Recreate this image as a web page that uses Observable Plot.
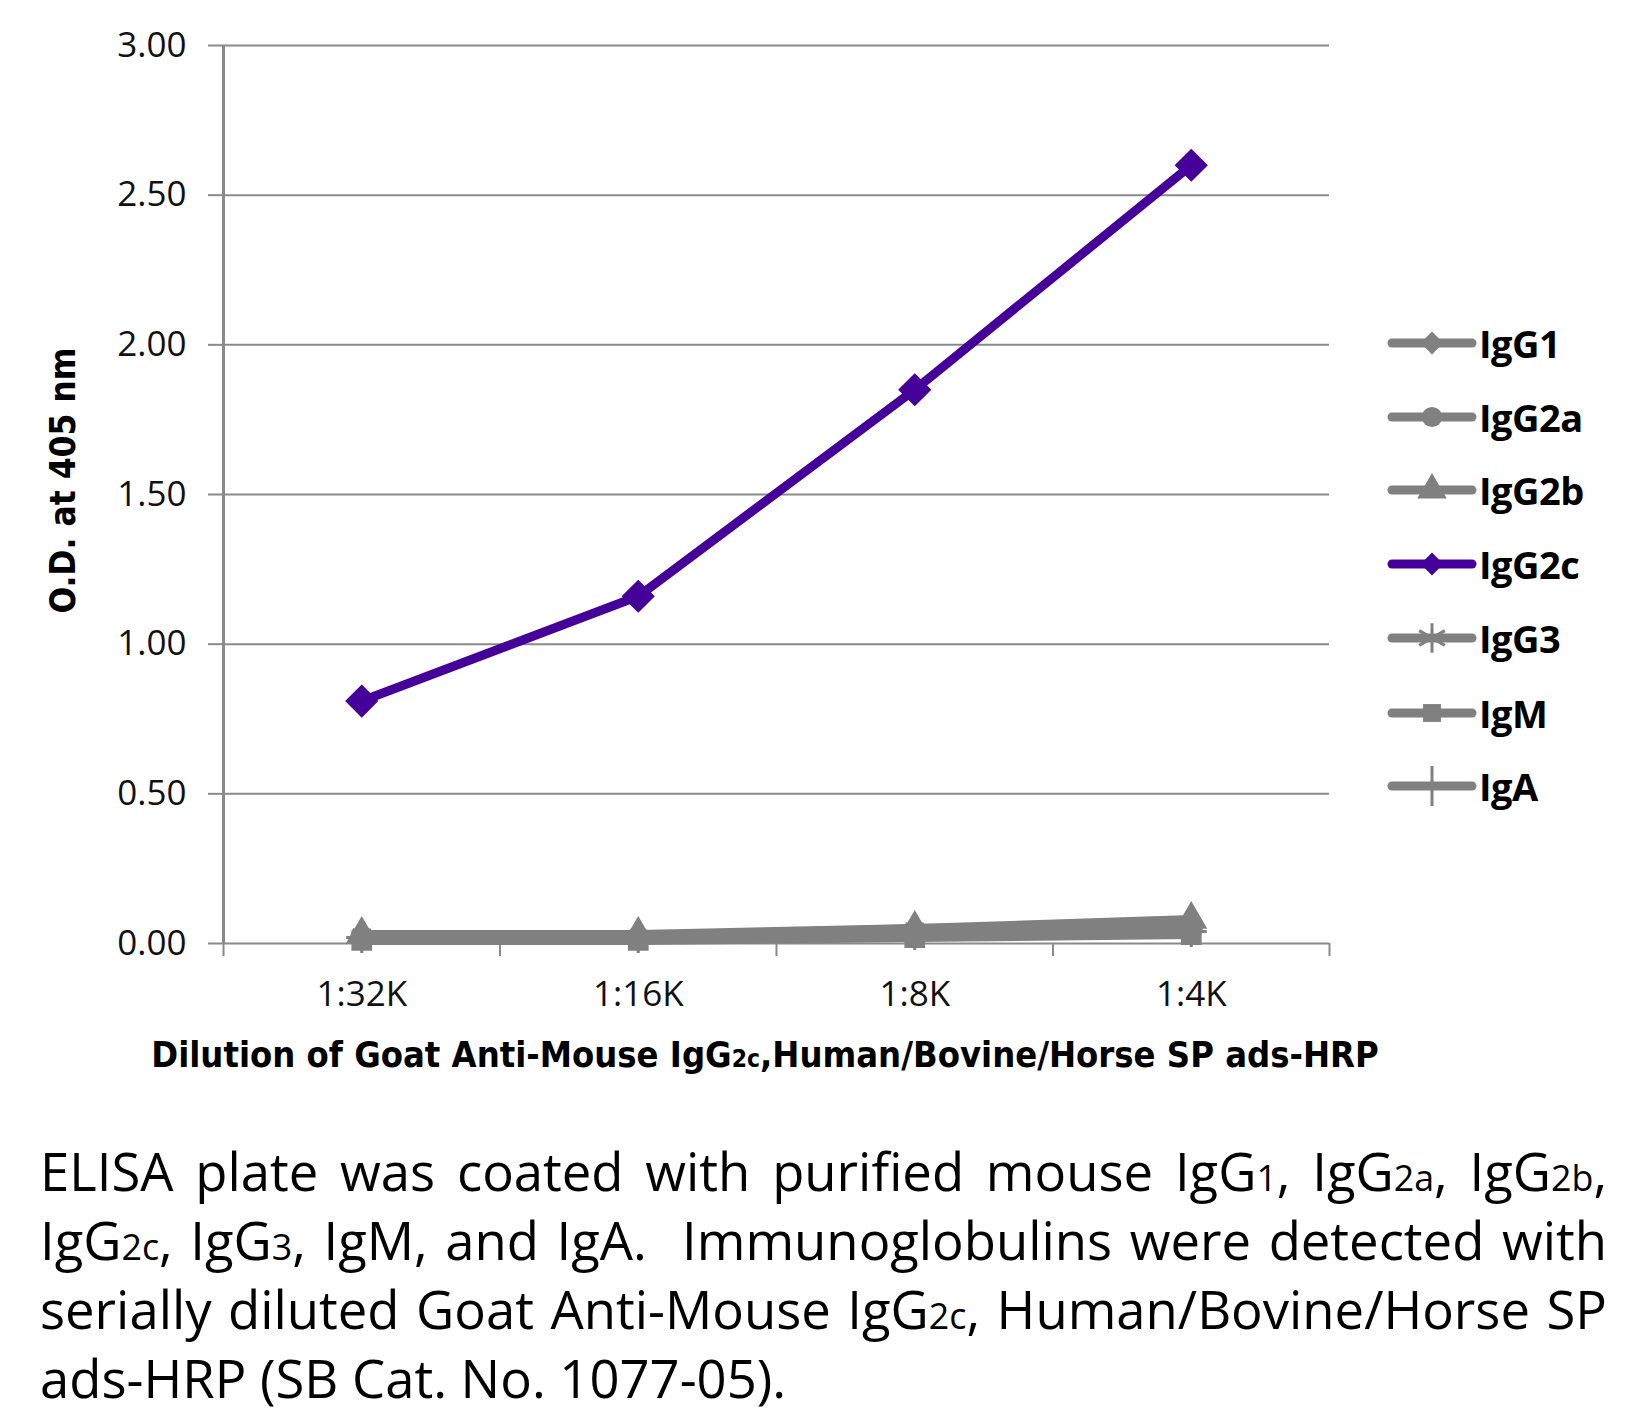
<!DOCTYPE html>
<html>
<head>
<meta charset="utf-8">
<script src="https://cdn.jsdelivr.net/npm/d3@7"></script>
<script src="https://cdn.jsdelivr.net/npm/@observablehq/plot@0.6"></script>
<style>
  body { margin: 0; background: #fff; }
  #wrap { position: relative; width: 1629px; height: 1415px; overflow: hidden; background:#fff; }
  #chart { position: absolute; left: 0; top: 0; }
  .cond { font-family: "Liberation Sans Narrow", "DejaVu Sans Condensed", "Roboto", sans-serif; font-weight: bold; }
  #xtitle { position: absolute; left: 0; width: 1530px; text-align: center; top: 1034px; font-size: 36px; color: #000; white-space: nowrap; }
  #xtitle .sub { font-size: 0.68em; }
  #legend { position: absolute; left: 1386px; top: 0; }
  .lrow { position: absolute; left: 0; height: 44px; display: flex; align-items: center; white-space: nowrap; }
  .lrow span { font-family: "Open Sans", "Noto Sans", sans-serif; font-weight: 700; font-size: 38px; color: #000; margin-left: 1px; letter-spacing: -0.5px; }
  #caption { position: absolute; left: 40px; width: 1567px; top: 1136px; font-family: "Open Sans", "Noto Sans", sans-serif; font-size: 48px; line-height: 69px; color: #000; }
  #caption .ln { text-align: justify; text-align-last: justify; white-space: nowrap; height: 69px; }
  #caption .last { text-align: left; text-align-last: left; height: 66px; }
  .s { font-size: 0.68em; line-height: 0; }
  .measure { position: absolute; left: 0; top: 0; visibility: hidden; white-space: nowrap; font-family: "Open Sans", "Noto Sans", sans-serif; font-size: 48px; }
</style>
</head>
<body>
<div id="wrap">
  <div id="chart"></div>
  <div id="xtitle" class="cond">Dilution of Goat Anti-Mouse IgG<span class="sub">2c</span>,Human/Bovine/Horse SP ads-HRP</div>
  <div id="legend"></div>
  <div id="caption">
    <div class="ln">ELISA plate was coated with purified mouse IgG<span class="s">1</span>, IgG<span class="s">2a</span>, IgG<span class="s">2b</span>,</div>
    <div class="ln">IgG<span class="s">2c</span>, IgG<span class="s">3</span>, IgM, and IgA.&nbsp; Immunoglobulins were detected with</div>
    <div class="ln">serially diluted Goat Anti-Mouse IgG<span class="s">2c</span>, Human/Bovine/Horse SP</div>
    <div class="ln last">ads-HRP (SB Cat. No. 1077-05).</div>
  </div>
</div>
<script>
// ---- data ----
const dilutions = ["1:32K", "1:16K", "1:8K", "1:4K"];
const seriesNames = ["IgG1", "IgG2a", "IgG2b", "IgG2c", "IgG3", "IgM", "IgA"];
const IgG1  = [0.02, 0.02, 0.04, 0.06];
const IgG2a = [0.02, 0.02, 0.03, 0.05];
const IgG2b = [0.03, 0.03, 0.05, 0.08];
const IgG2c = [0.81, 1.16, 1.85, 2.60];
const IgG3  = [0.03, 0.02, 0.05, 0.06];
const IgM   = [0.01, 0.01, 0.02, 0.03];
const IgA   = [0.02, 0.02, 0.03, 0.04];
const yTicks = [0, 0.5, 1, 1.5, 2, 2.5, 3];
const symbols = ["diamond2", "circle", "triangle", "diamond2", "asterisk", "square", "plus"];
const colors = ["#808080", "#808080", "#808080", "#46009a", "#808080", "#808080", "#808080"];

const values = [IgG1, IgG2a, IgG2b, IgG2c, IgG3, IgM, IgA];
const rows = seriesNames.flatMap((s, si) => values[si].map((v, i) => ({series: s, pos: i + 0.5, od: v})));
const gray = rows.filter(d => d.series !== "IgG2c");
const purple = rows.filter(d => d.series === "IgG2c");

const shadow = "filter: drop-shadow(3px 7px 3px rgba(0,0,0,0.45));";
const condFont = '"Liberation Sans Narrow", "DejaVu Sans Condensed", sans-serif';
const tickFont = '"Open Sans", "Noto Sans", sans-serif';

const chart = Plot.plot({
  width: 1629,
  height: 1020,
  marginLeft: 223,
  marginRight: 300,
  marginTop: 45,
  marginBottom: 77,
  style: {fontFamily: tickFont, background: "white"},
  x: {domain: [0, dilutions.length], axis: null},
  y: {domain: [0, 3], axis: null},
  symbol: {domain: seriesNames, range: symbols},
  marks: [
    Plot.gridY(yTicks, {stroke: "#8a8a8a", strokeOpacity: 1, strokeWidth: 2}),
    Plot.axisY(yTicks, {tickSize: 15, tickPadding: 22, tickFormat: d3.format(".2f"), stroke: "#8a8a8a", strokeWidth: 2, fontSize: 35, fill: "#111", label: null}),
    Plot.ruleX([0], {stroke: "#8a8a8a", strokeWidth: 3}),
    Plot.axisX(d3.range(dilutions.length + 1), {tickSize: 13, tickFormat: () => "", stroke: "#8a8a8a", strokeWidth: 2, label: null}),
    Plot.axisX(dilutions.map((d, i) => i + 0.5), {tickSize: 0, tickPadding: 38, tickFormat: v => dilutions[Math.floor(v)], fontSize: 35, fill: "#111", label: null}),
    Plot.text(["O.D. at 405 nm"], {frameAnchor: "left", textAnchor: "middle", rotate: -90, dx: -160, dy: -14, fontSize: 35, fontWeight: "bold", fontFamily: condFont, fill: "#000"}),
    Plot.line(gray, {x: "pos", y: "od", z: "series", stroke: "#808080", strokeWidth: 9, style: shadow}),
    Plot.dot(gray, {x: "pos", y: "od", symbol: "series", fill: "#808080", stroke: "#808080", strokeWidth: 3, r: 10, style: shadow}),
    Plot.line(purple, {x: "pos", y: "od", stroke: "#46009a", strokeWidth: 9, style: shadow}),
    Plot.dot(purple, {x: "pos", y: "od", symbol: "series", fill: "#46009a", stroke: "#46009a", strokeWidth: 1.5, r: 14, style: shadow})
  ]
});
document.getElementById("chart").append(chart);

// fit caption font so the widest line spans the caption width
const cap = document.getElementById("caption");
let maxW = 0;
cap.querySelectorAll(".ln").forEach(ln => {
  const sp = document.createElement("span");
  sp.className = "measure";
  sp.innerHTML = ln.innerHTML;
  document.body.append(sp);
  maxW = Math.max(maxW, sp.getBoundingClientRect().width);
  sp.remove();
});
cap.style.fontSize = Math.min(56, 48 * 1550 / maxW) + "px";

// ---- legend ----
const legend = d3.select("#legend");
const rowTops = [343, 417, 490, 564, 638, 713, 786];
const symMap = {diamond2: d3.symbolDiamond2, circle: d3.symbolCircle, triangle: d3.symbolTriangle, asterisk: d3.symbolAsterisk, square: d3.symbolSquare, plus: d3.symbolPlus};
seriesNames.forEach((s, i) => {
  const row = legend.append("div").attr("class", "lrow").style("top", (rowTops[i] - 22) + "px");
  const svg = row.append("svg").attr("width", 92).attr("height", 44);
  svg.append("line").attr("x1", 6).attr("x2", 86).attr("y1", 22).attr("y2", 22)
    .attr("stroke", colors[i]).attr("stroke-width", 9).attr("stroke-linecap", "round");
  const sym = symbols[i];
  const size = sym === "asterisk" ? 620 : sym === "plus" ? 520 : sym === "diamond2" ? 330 : sym === "triangle" ? 380 : 320;
  const p = svg.append("path").attr("transform", "translate(46,22)").attr("d", d3.symbol(symMap[sym], size)());
  if (sym === "asterisk" || sym === "plus") p.attr("fill", "none").attr("stroke", colors[i]).attr("stroke-width", 3);
  else p.attr("fill", colors[i]);
  row.append("span").text(s);
});
</script>
</body>
</html>
